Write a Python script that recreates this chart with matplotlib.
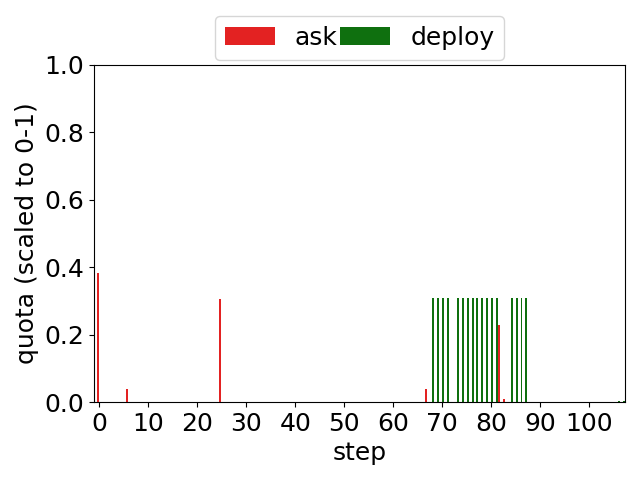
import matplotlib
matplotlib.use("Agg")
import matplotlib.pyplot as plt
import numpy as np

# values
ask_steps = [0, 6, 25, 67, 82, 83]
ask_quota = [0.384, 0.039, 0.306, 0.040, 0.229, 0.010]

deploy_steps = [68, 69, 70, 71, 73, 74, 75, 76, 77, 78, 79, 80, 81,
                84, 85, 86, 87, 106, 107]
deploy_quota = [0.308, 0.308, 0.308, 0.308, 0.308, 0.308, 0.308, 0.308,
                0.308, 0.308, 0.308, 0.308, 0.308, 0.308, 0.308, 0.308,
                0.308, 0.003, 0.003]

width = 0.4

fig = plt.figure(figsize=(6.4, 4.8), dpi=100)
ax = fig.add_axes([0.147, 0.1625, 0.83, 0.7025])

ax.bar(np.array(ask_steps) - 0.3, ask_quota, width, color="#e32222", label="ask")
ax.bar(np.array(deploy_steps) + 0.2, deploy_quota, width, color="#0f700f", label="deploy")

ax.set_xlim(-1.1, 107.4)
ax.set_ylim(0, 1.0)
ax.set_xticks(range(0, 101, 10))
ax.tick_params(labelsize=18)
ax.set_xlabel("step", fontsize=18)
ax.set_ylabel("quota (scaled to 0-1)", fontsize=18)

ax.legend(loc="lower center", bbox_to_anchor=(0.5, 1.0), ncol=2, fontsize=18,
          columnspacing=0.1, borderaxespad=0.2)

fig.savefig("out.png")
